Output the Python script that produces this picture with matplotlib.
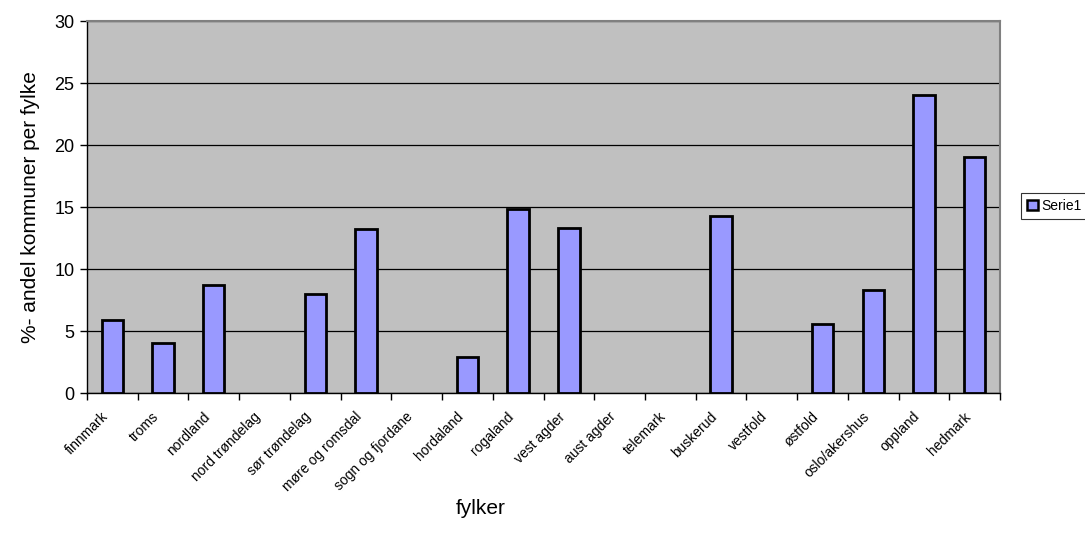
import matplotlib
matplotlib.use("Agg")
import matplotlib.pyplot as plt
import numpy as np
from matplotlib.patches import Patch

fylker = ["finnmark", "troms", "nordland", "nord trøndelag", "sør trøndelag",
          "møre og romsdal", "sogn og fjordane", "hordaland", "rogaland",
          "vest agder", "aust agder", "telemark", "buskerud", "vestfold",
          "østfold", "oslo/akershus", "oppland", "hedmark"]
andel = [5.9, 4.0, 8.7, 0.0, 8.0, 13.2, 0.0, 2.9, 14.8,
         13.3, 0.0, 0.0, 14.3, 0.0, 5.6, 8.3, 24.0, 19.0]
y_ticks = [0, 5, 10, 15, 20, 25, 30]

plt.rcParams["font.family"] = ["Liberation Sans", "DejaVu Sans"]

fig = plt.figure(figsize=(10.85, 5.34), dpi=100)
ax = fig.add_axes([87 / 1085, 1 - 393 / 534, 913 / 1085, 372 / 534])

x = np.arange(len(fylker))
vals = np.array(andel)
ax.set_facecolor("#C0C0C0")
# empty categories get no outline
edge_w = np.where(vals > 0, 2.0, 0.0)
ax.bar(x, vals, width=0.42, color="#9999FF", edgecolor="black",
       linewidth=edge_w, zorder=3)

ax.set_xlim(-0.5, len(fylker) - 0.5)
ax.set_ylim(0, 30)
ax.set_yticks(y_ticks)
ax.set_yticklabels([str(v) for v in y_ticks], fontsize=13)
ax.yaxis.grid(True, color="black", linewidth=0.9, zorder=1)
ax.set_axisbelow(True)

# category ticks sit on the boundaries; the slanted names end just left of
# each category centre
ax.set_xticks(np.arange(len(fylker) + 1) - 0.5)
ax.set_xticklabels([])
ax.set_xticks(x - 0.22, minor=True)
ax.set_xticklabels(fylker, minor=True, rotation=45, ha="right",
                   rotation_mode="anchor", fontsize=10)
ax.tick_params(axis="x", which="minor", length=0, pad=12)
ax.tick_params(axis="x", which="major", direction="out", length=5, width=1)
ax.tick_params(axis="y", direction="out", length=5, width=1, pad=4)

for side in ("top", "right"):
    ax.spines[side].set_color("#808080")
    ax.spines[side].set_linewidth(1.5)
for side in ("left", "bottom"):
    ax.spines[side].set_color("black")
    ax.spines[side].set_linewidth(1)

ax.set_ylabel("%- andel kommuner per fylke", fontsize=15, labelpad=10)
fig.text(481 / 1085, 1 - 508 / 534, "fylker", fontsize=15,
         ha="center", va="center")

handle = Patch(facecolor="#9999FF", edgecolor="black", linewidth=1.8)
leg = fig.legend([handle], ["Serie1"], loc="center left",
                 bbox_to_anchor=(1021 / 1085, 1 - 206 / 534),
                 fontsize=10, frameon=True, fancybox=False,
                 handlelength=0.75, handleheight=0.75, handletextpad=0.25,
                 borderpad=0.45, borderaxespad=0)
leg.get_frame().set_edgecolor("black")
leg.get_frame().set_linewidth(0.8)

fig.savefig("out.png", dpi=100)
